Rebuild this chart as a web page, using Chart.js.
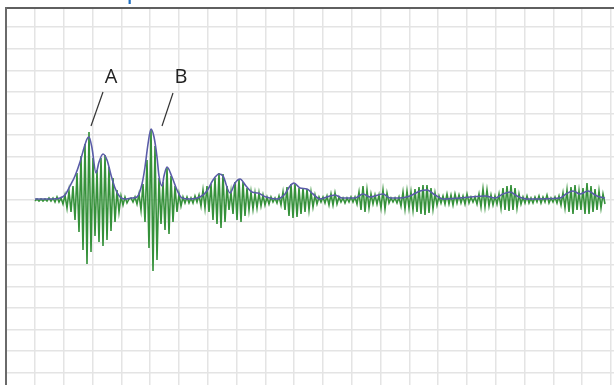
<!DOCTYPE html>
<html>
<head>
<meta charset="utf-8">
<script src="https://cdn.jsdelivr.net/npm/chart.js@4/dist/chart.umd.min.js"></script>
<style>
  html, body { margin:0; padding:0; background:#fff; }
  #wrap { width:614px; height:385px; position:relative; }
</style>
</head>
<body>
<div id="wrap"><canvas id="chart"></canvas></div>
<script>
/* ---------- data (amplitude, one sample every 2 units of time) ---------- */
const signal = [
  -1,1,-1,1,-1,1,-1,2,-1,2,-2,3,-2,2,-4,5,-8,9,-12,14,
  -20,27,-32,44,-50,56,-64,68,-52,42,-36,30,-42,42,-46,45,-40,33,-31,22,
  -22,10,-12,4,-5,3,-3,1,2,-2,3,-4,6,-10,16,-22,40,-48,71,-71,
  54,-60,22,-24,18,-30,32,-34,24,-22,14,-12,6,-6,3,-3,3,-3,2,-3,
  4,-2,5,-6,10,-8,14,-12,16,-20,22,-24,27,-28,26,-22,14,-10,8,-14,
  18,-20,21,-22,18,-16,12,-10,8,-9,7,-8,7,-6,5,-5,3,-4,3,-2,
  2,-3,4,-5,8,-10,13,-16,16,-18,16,-17,12,-14,12,-12,11,-10,8,-7,
  5,-4,3,-2,3,-3,4,-5,6,-5,7,-4,3,-2,2,-3,2,-2,3,-2,
  3,-4,8,-10,14,-12,10,-8,6,-4,5,-4,5,-8,10,-9,7,-3,2,-2,
  2,-3,3,-6,8,-9,9,-8,8,-10,11,-12,13,-14,15,-15,15,-13,12,-9,
  7,-5,4,-3,4,-4,6,-4,5,-5,6,-3,5,-3,4,-4,6,-3,3,-2,
  3,-4,6,-7,11,-7,10,-6,5,-5,4,-4,6,-8,12,-10,14,-11,15,-10,
  12,-8,6,-4,3,-3,4,-3,2,-3,3,-2,4,-3,3,-2,5,-3,2,-2,
  3,-3,4,-5,7,-8,10,-12,13,-14,15,-10,9,-10,12,-14,17,-14,14,-12,
  11,-10,9,-8,6,-4
];

// envelope: sample position and amplitude
const envAt  = [0,7.5,12.5,15,17.5,20,22.5,24.5,26,27,28.5,30.5,32,34,36,38,40,42.5,45,48.5,
  51,53.5,55,56.5,58,59.5,61,62,63.5,64.5,66,68.5,71,73.5,77.5,82.5,86,89,92,94,
  97.5,100,102.5,105.5,108.5,111.5,115.5,121,125,127.5,129.5,132.5,136,139,142.5,147.5,150,153.5,160,164,
  167.5,174,177.5,182.5,187.5,192.5,196,200,204,212.5,217.5,225,230,234,237.5,241,246,262.5,265.5,269,
  272.5,276.5,280,282.5,285];
const envAmp = [1,1,2,5,14,24,38,52,61,63,52,27,38,46,40,25,12,3,1,2,
  3,16,33,56,71,63,43,24,14,24,33,23,10,2,1,3,9,20,26,24,
  7,17,21,14,8,7,3,1,6,14,17,12,11,6,1,4,5,2,2,6,
  3,6,2,2,4,9,10,5,1,2,3,4,2,6,8,4,1,2,6,9,
  6,9,5,3,2];

const callouts = [
  { text:'A', at:[38,123], from:[34,108], to:[28,74] },
  { text:'B', at:[73,123], from:[69,107], to:[63.5,74] }
];
const title = 'Envelope';

const X_MIN = -14.5, X_MAX = 289.5, X_STEP = 14.4;
const Y_MIN = -185, Y_MAX = 191, Y_STEP = 21.6;

/* ---------- helpers ---------- */
function stepTicks(min, max, step, offset){
  const out = [];
  for (let v = Math.ceil((min - offset)/step)*step + offset; v <= max + 1e-6; v += step) out.push({value:v});
  return out;
}

const decor = {
  id:'decor',
  afterDatasetsDraw(chart){
    const {ctx, scales:{x, y}} = chart;
    ctx.save();
    callouts.forEach(c => {
      ctx.strokeStyle = '#333'; ctx.lineWidth = 1.2;
      ctx.beginPath();
      ctx.moveTo(x.getPixelForValue(c.from[0]), y.getPixelForValue(c.from[1]));
      ctx.lineTo(x.getPixelForValue(c.to[0]), y.getPixelForValue(c.to[1]));
      ctx.stroke();
      ctx.fillStyle = '#222'; ctx.font = '20px "Open Sans", sans-serif';
      ctx.textAlign = 'center'; ctx.textBaseline = 'middle';
      ctx.fillText(c.text, x.getPixelForValue(c.at[0]), y.getPixelForValue(c.at[1]));
    });
    // title sits above the visible area, only its descender shows
    ctx.font = '600 19px "Open Sans", sans-serif';
    ctx.textAlign = 'left'; ctx.textBaseline = 'alphabetic';
    ctx.fillStyle = '#1f6fc0';
    const pre = ctx.measureText(title.slice(0, title.indexOf('p'))).width;
    ctx.fillText(title, 127 - pre, -1);
    ctx.restore();
  }
};

new Chart(document.getElementById('chart'), {
  type:'line',
  data:{
    datasets:[
      { label:'envelope', data: envAt.map((t,k)=>({x:t, y:envAmp[k]})),
        borderColor:'#5a5ca8', borderWidth:1.6, pointRadius:0, cubicInterpolationMode:'monotone', fill:false },
      { label:'signal', data: signal.map((v,i)=>({x:i, y:v})),
        borderColor:'#35913a', borderWidth:1.6, pointRadius:0, tension:0, fill:false }
    ]
  },
  options:{
    responsive:true, maintainAspectRatio:false, animation:false,
    layout:{ padding:{ left:6, top:8, right:0, bottom:0 } },
    plugins:{ legend:{display:false}, tooltip:{enabled:false} },
    scales:{
      x:{ type:'linear', position:'top', min:X_MIN, max:X_MAX,
          afterBuildTicks: s => { s.ticks = stepTicks(X_MIN, X_MAX, X_STEP, -X_STEP); },
          ticks:{display:false}, grid:{color:'#e4e4e4', lineWidth:1.5, drawTicks:false},
          border:{display:true, color:'#5f5f5f', width:2} },
      y:{ type:'linear', position:'left', min:Y_MIN, max:Y_MAX + 1,
          afterBuildTicks: s => { s.ticks = stepTicks(Y_MIN, Y_MAX + 1, Y_STEP, 0); },
          ticks:{display:false}, grid:{color:'#e4e4e4', lineWidth:1.5, drawTicks:false},
          border:{display:true, color:'#6a6a6a', width:2} }
    }
  },
  plugins:[decor]
});
</script>
</body>
</html>
